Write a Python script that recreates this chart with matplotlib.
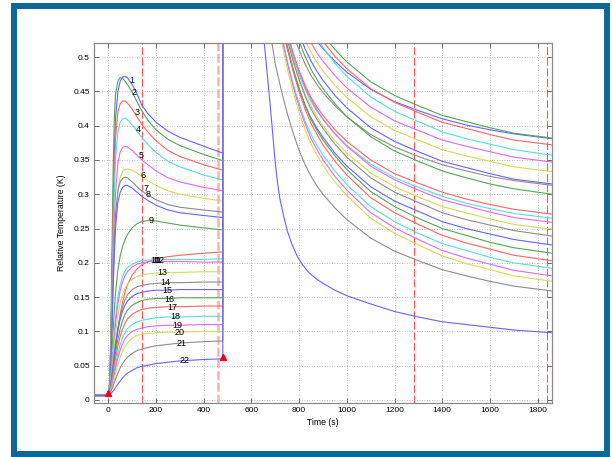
import numpy as np
import matplotlib.pyplot as plt
from matplotlib.patches import Rectangle

## ---------------- data ----------------
# time grid for the heating part (s) and the cooling part (s)
t_heat = [-60, -1, 0, 5, 10, 15, 20, 25, 30, 40, 50, 60, 70, 80, 100, 120, 140, 170, 200, 250, 300, 400, 480]
t_cool = [600, 650, 700, 725, 750, 775, 800, 825, 850, 875, 900, 950, 1000, 1100, 1200, 1300, 1400, 1500, 1600, 1700, 1860]
# probe 22 falls much faster, so it has its own grid
t_cool_last = [600, 654, 665, 680, 690, 700, 710, 720, 735, 750, 770, 790, 810, 840, 870, 900, 950, 1000,
               1100, 1200, 1300, 1400, 1500, 1600, 1700, 1860]

# relative temperature (K) of the 22 probes while heating, one row per probe
heat_T = [
    [0.007, 0.007, 0.009, 0.020, 0.070, 0.170, 0.280, 0.360, 0.410, 0.450, 0.465, 0.471, 0.472, 0.470, 0.460, 0.447, 0.430, 0.416, 0.405, 0.392, 0.383, 0.370, 0.360],
    [0.008, 0.008, 0.009, 0.025, 0.090, 0.210, 0.330, 0.410, 0.445, 0.465, 0.470, 0.469, 0.465, 0.460, 0.449, 0.435, 0.422, 0.406, 0.394, 0.380, 0.371, 0.358, 0.349],
    [0.007, 0.007, 0.009, 0.020, 0.070, 0.160, 0.260, 0.330, 0.380, 0.420, 0.432, 0.436, 0.436, 0.433, 0.424, 0.413, 0.402, 0.389, 0.378, 0.364, 0.355, 0.343, 0.335],
    [0.007, 0.007, 0.009, 0.018, 0.060, 0.140, 0.230, 0.300, 0.350, 0.390, 0.405, 0.410, 0.411, 0.409, 0.401, 0.392, 0.383, 0.371, 0.361, 0.348, 0.340, 0.328, 0.321],
    [0.007, 0.007, 0.009, 0.017, 0.050, 0.120, 0.200, 0.260, 0.300, 0.345, 0.362, 0.368, 0.370, 0.369, 0.364, 0.357, 0.350, 0.342, 0.334, 0.324, 0.318, 0.310, 0.305],
    [0.007, 0.007, 0.009, 0.016, 0.040, 0.100, 0.170, 0.220, 0.260, 0.305, 0.325, 0.333, 0.336, 0.337, 0.335, 0.331, 0.326, 0.319, 0.313, 0.305, 0.300, 0.294, 0.290],
    [0.007, 0.007, 0.009, 0.016, 0.045, 0.110, 0.180, 0.230, 0.270, 0.305, 0.318, 0.323, 0.325, 0.324, 0.318, 0.311, 0.305, 0.298, 0.292, 0.285, 0.281, 0.277, 0.274],
    [0.006, 0.006, 0.009, 0.016, 0.040, 0.100, 0.160, 0.210, 0.250, 0.288, 0.303, 0.310, 0.313, 0.313, 0.309, 0.303, 0.297, 0.290, 0.284, 0.277, 0.273, 0.269, 0.266],
    [0.007, 0.007, 0.009, 0.014, 0.030, 0.060, 0.100, 0.130, 0.155, 0.190, 0.210, 0.224, 0.234, 0.241, 0.251, 0.257, 0.260, 0.262, 0.261, 0.258, 0.255, 0.251, 0.248],
    [0.007, 0.007, 0.008, 0.012, 0.020, 0.030, 0.045, 0.060, 0.075, 0.100, 0.125, 0.143, 0.157, 0.168, 0.182, 0.191, 0.197, 0.202, 0.206, 0.209, 0.211, 0.214, 0.216],
    [0.007, 0.007, 0.008, 0.015, 0.030, 0.050, 0.080, 0.100, 0.120, 0.150, 0.168, 0.180, 0.188, 0.193, 0.198, 0.201, 0.203, 0.204, 0.204, 0.205, 0.205, 0.205, 0.206],
    [0.007, 0.007, 0.008, 0.014, 0.027, 0.045, 0.070, 0.090, 0.110, 0.140, 0.160, 0.172, 0.181, 0.187, 0.194, 0.198, 0.200, 0.202, 0.202, 0.202, 0.202, 0.201, 0.201],
    [0.007, 0.007, 0.008, 0.013, 0.024, 0.040, 0.060, 0.080, 0.097, 0.123, 0.142, 0.154, 0.163, 0.169, 0.176, 0.180, 0.182, 0.184, 0.185, 0.186, 0.186, 0.187, 0.187],
    [0.006, 0.006, 0.008, 0.012, 0.022, 0.035, 0.050, 0.067, 0.082, 0.105, 0.123, 0.136, 0.146, 0.153, 0.161, 0.165, 0.167, 0.169, 0.170, 0.171, 0.171, 0.172, 0.172],
    [0.007, 0.007, 0.008, 0.012, 0.022, 0.035, 0.050, 0.065, 0.080, 0.102, 0.118, 0.130, 0.138, 0.144, 0.151, 0.155, 0.157, 0.159, 0.160, 0.160, 0.161, 0.161, 0.161],
    [0.007, 0.007, 0.008, 0.011, 0.019, 0.030, 0.042, 0.055, 0.068, 0.088, 0.104, 0.116, 0.125, 0.131, 0.138, 0.142, 0.145, 0.147, 0.148, 0.148, 0.149, 0.149, 0.149],
    [0.007, 0.007, 0.008, 0.011, 0.018, 0.027, 0.037, 0.048, 0.060, 0.078, 0.093, 0.104, 0.112, 0.118, 0.125, 0.129, 0.132, 0.134, 0.135, 0.136, 0.136, 0.137, 0.137],
    [0.007, 0.007, 0.008, 0.010, 0.016, 0.024, 0.032, 0.042, 0.052, 0.068, 0.081, 0.091, 0.098, 0.104, 0.110, 0.114, 0.116, 0.118, 0.120, 0.121, 0.121, 0.122, 0.122],
    [0.007, 0.007, 0.008, 0.010, 0.015, 0.022, 0.029, 0.037, 0.046, 0.061, 0.073, 0.082, 0.089, 0.094, 0.100, 0.103, 0.105, 0.107, 0.108, 0.109, 0.109, 0.110, 0.110],
    [0.007, 0.007, 0.008, 0.009, 0.013, 0.018, 0.024, 0.031, 0.038, 0.051, 0.062, 0.071, 0.078, 0.083, 0.090, 0.094, 0.096, 0.097, 0.098, 0.099, 0.099, 0.100, 0.100],
    [0.006, 0.006, 0.008, 0.009, 0.012, 0.016, 0.020, 0.025, 0.030, 0.039, 0.047, 0.053, 0.058, 0.062, 0.068, 0.072, 0.074, 0.077, 0.079, 0.081, 0.083, 0.085, 0.086],
    [0.007, 0.007, 0.008, 0.008, 0.009, 0.011, 0.013, 0.015, 0.018, 0.023, 0.028, 0.032, 0.036, 0.039, 0.043, 0.047, 0.049, 0.051, 0.053, 0.055, 0.057, 0.059, 0.060],
]

# relative temperature (K) after the hot phase, probes 1..21 (values > 0.52 are off the plot)
cool_T = [
    [0.931, 0.791, 0.689, 0.653, 0.622, 0.595, 0.572, 0.552, 0.536, 0.523, 0.512, 0.494, 0.478, 0.453, 0.435, 0.422, 0.410, 0.401, 0.394, 0.388, 0.381],
    [1.014, 0.854, 0.736, 0.696, 0.659, 0.628, 0.601, 0.579, 0.561, 0.546, 0.533, 0.511, 0.493, 0.464, 0.444, 0.429, 0.415, 0.406, 0.397, 0.389, 0.382],
    [1.004, 0.844, 0.726, 0.686, 0.649, 0.618, 0.591, 0.569, 0.551, 0.536, 0.523, 0.501, 0.483, 0.454, 0.434, 0.419, 0.405, 0.396, 0.387, 0.379, 0.372],
    [1.013, 0.847, 0.724, 0.682, 0.644, 0.612, 0.585, 0.561, 0.542, 0.527, 0.514, 0.491, 0.472, 0.442, 0.421, 0.406, 0.391, 0.381, 0.373, 0.365, 0.357],
    [0.962, 0.806, 0.691, 0.652, 0.616, 0.586, 0.560, 0.538, 0.521, 0.506, 0.494, 0.473, 0.455, 0.427, 0.407, 0.393, 0.379, 0.370, 0.362, 0.354, 0.347],
    [0.948, 0.792, 0.677, 0.638, 0.602, 0.572, 0.546, 0.524, 0.507, 0.492, 0.480, 0.459, 0.441, 0.413, 0.393, 0.379, 0.365, 0.356, 0.348, 0.340, 0.333],
    [0.880, 0.736, 0.631, 0.594, 0.562, 0.534, 0.510, 0.490, 0.473, 0.460, 0.448, 0.429, 0.413, 0.387, 0.369, 0.355, 0.343, 0.334, 0.326, 0.320, 0.313],
    [0.947, 0.787, 0.669, 0.629, 0.592, 0.561, 0.534, 0.512, 0.494, 0.479, 0.466, 0.444, 0.426, 0.397, 0.377, 0.362, 0.348, 0.339, 0.330, 0.322, 0.315],
    [0.944, 0.781, 0.661, 0.619, 0.582, 0.551, 0.523, 0.501, 0.482, 0.467, 0.454, 0.432, 0.413, 0.384, 0.363, 0.348, 0.334, 0.324, 0.315, 0.308, 0.300],
    [0.874, 0.721, 0.609, 0.570, 0.535, 0.506, 0.480, 0.459, 0.441, 0.427, 0.415, 0.394, 0.377, 0.350, 0.330, 0.316, 0.303, 0.293, 0.285, 0.278, 0.271],
    [0.868, 0.715, 0.603, 0.564, 0.529, 0.500, 0.474, 0.453, 0.435, 0.421, 0.409, 0.388, 0.371, 0.344, 0.324, 0.310, 0.297, 0.287, 0.279, 0.272, 0.265],
    [0.891, 0.731, 0.613, 0.573, 0.536, 0.505, 0.478, 0.456, 0.438, 0.423, 0.410, 0.388, 0.370, 0.341, 0.321, 0.306, 0.292, 0.283, 0.274, 0.266, 0.259],
    [0.881, 0.721, 0.603, 0.563, 0.526, 0.495, 0.468, 0.446, 0.428, 0.413, 0.400, 0.378, 0.360, 0.331, 0.311, 0.296, 0.282, 0.273, 0.264, 0.256, 0.249],
    [0.895, 0.729, 0.606, 0.564, 0.526, 0.494, 0.467, 0.443, 0.424, 0.409, 0.396, 0.373, 0.354, 0.324, 0.303, 0.288, 0.273, 0.263, 0.255, 0.247, 0.239],
    [0.882, 0.716, 0.593, 0.551, 0.513, 0.481, 0.454, 0.430, 0.411, 0.396, 0.383, 0.360, 0.341, 0.311, 0.290, 0.275, 0.260, 0.250, 0.242, 0.234, 0.226],
    [0.905, 0.730, 0.601, 0.557, 0.517, 0.483, 0.454, 0.429, 0.409, 0.393, 0.379, 0.356, 0.336, 0.304, 0.282, 0.265, 0.250, 0.240, 0.230, 0.222, 0.214],
    [0.912, 0.732, 0.600, 0.555, 0.514, 0.479, 0.449, 0.424, 0.403, 0.387, 0.372, 0.348, 0.328, 0.295, 0.273, 0.256, 0.240, 0.229, 0.220, 0.211, 0.203],
    [0.883, 0.708, 0.579, 0.535, 0.495, 0.461, 0.432, 0.407, 0.387, 0.371, 0.357, 0.334, 0.314, 0.282, 0.260, 0.243, 0.228, 0.218, 0.208, 0.200, 0.192],
    [0.890, 0.710, 0.578, 0.533, 0.492, 0.457, 0.427, 0.402, 0.381, 0.365, 0.350, 0.326, 0.306, 0.273, 0.251, 0.234, 0.218, 0.207, 0.198, 0.189, 0.181],
    [0.882, 0.702, 0.570, 0.525, 0.484, 0.449, 0.419, 0.394, 0.373, 0.357, 0.342, 0.318, 0.298, 0.265, 0.243, 0.226, 0.210, 0.199, 0.190, 0.181, 0.173],
    [0.750, 0.600, 0.490, 0.452, 0.418, 0.389, 0.364, 0.343, 0.326, 0.312, 0.300, 0.280, 0.263, 0.236, 0.217, 0.203, 0.190, 0.181, 0.173, 0.166, 0.159],
]
# probe 22 after the hot phase
cool_T_last = [1.500, 0.520, 0.480, 0.425, 0.385, 0.345, 0.315, 0.292, 0.268, 0.247, 0.227, 0.211, 0.199, 0.186,
               0.177, 0.170, 0.160, 0.152, 0.140, 0.129, 0.121, 0.114, 0.110, 0.106, 0.102, 0.098]

probe_names = [str(i) for i in range(1, 23)]
# where the probe numbers sit
label_t = [98, 109, 119, 127, 138, 147, 156, 166, 179, 197, 205, 212, 228, 238, 247, 258, 270, 280, 289, 298, 307, 319]
label_T = [0.466, 0.449, 0.419, 0.395, 0.356, 0.328, 0.308, 0.299, 0.261, 0.203, 0.203, 0.203, 0.186, 0.171,
           0.160, 0.147, 0.135, 0.121, 0.109, 0.098, 0.082, 0.057]

marker_t = [0, 480]
marker_T = [0.010, 0.063]
event_t = [140, 1280, 1840]
pale_event_t = [460]

xticks = [0, 200, 400, 600, 800, 1000, 1200, 1400, 1600, 1800]
yticks = [0, 0.05, 0.1, 0.15, 0.2, 0.25, 0.3, 0.35, 0.4, 0.45, 0.5]
ytick_labels = ['0', '0.05', '0.1', '0.15', '0.2', '0.25', '0.3', '0.35', '0.4', '0.45', '0.5']

## old matlab colour order, washed out
line_colors = ['#6464ff', '#55a555', '#ff6464', '#55dede', '#e36ae3', '#d9d955', '#8c8c8c']

plt.rcParams['font.family'] = ['Liberation Sans', 'DejaVu Sans']

fig = plt.figure(figsize=(6.12, 4.57), dpi=100)
ax = fig.add_axes([94 / 612, 1 - 402.7 / 457, (552 - 94) / 612, (402.7 - 42.7) / 457])

## event lines
for t in event_t:
    ax.axvline(t, color='#ff5555', lw=0.8, ls=(0, (7, 2.5)), zorder=1)
for t in pale_event_t:
    ax.axvline(t, color='#ffb0b0', lw=1.8, ls=(0, (3.5, 1.2)), zorder=1)

## probes: heating, jump at switch-off, cooling
for i in range(len(heat_T)):
    if i < len(cool_T):
        tc, Tc = t_cool, cool_T[i]
    else:
        tc, Tc = t_cool_last, cool_T_last
    x = list(t_heat) + [480.5] + list(tc)
    y = list(heat_T[i]) + [3.0] + list(Tc)
    ax.plot(x, y, color=line_colors[i % 7], lw=0.8, zorder=2)

for i in range(len(probe_names)):
    ax.text(label_t[i], label_T[i], probe_names[i], fontsize=6.5, ha='center', va='center', zorder=4)

ax.plot(marker_t, marker_T, ls='none', marker='^', ms=5, mfc='#ff0000', mec='#ee0022', zorder=5)

ax.set_xlim(-60, 1860)
ax.set_ylim(-0.004, 0.521)
ax.set_xticks(xticks)
ax.set_yticks(yticks)
ax.set_yticklabels(ytick_labels)
ax.tick_params(direction='in', top=True, right=True, length=3.5, width=0.6,
               color='#555555', labelsize=6, pad=3)
ax.grid(True, color='#aaaaaa', ls=(0, (1, 2)), lw=0.6)
for s in ax.spines.values():
    s.set_color('#8a8a8a')
    s.set_linewidth(0.9)
ax.set_xlabel('Time (s)', fontsize=6.2, labelpad=3)
ax.set_ylabel('Relative Temperature (K)', fontsize=6.2, labelpad=5)

## blue frame round the whole picture
fig.add_artist(Rectangle((14 / 612, 3 / 457), 593 / 612, 448.2 / 457, transform=fig.transFigure,
                         fill=False, ec='#0b6898', lw=4.3))

fig.savefig('out.png', dpi=100)
